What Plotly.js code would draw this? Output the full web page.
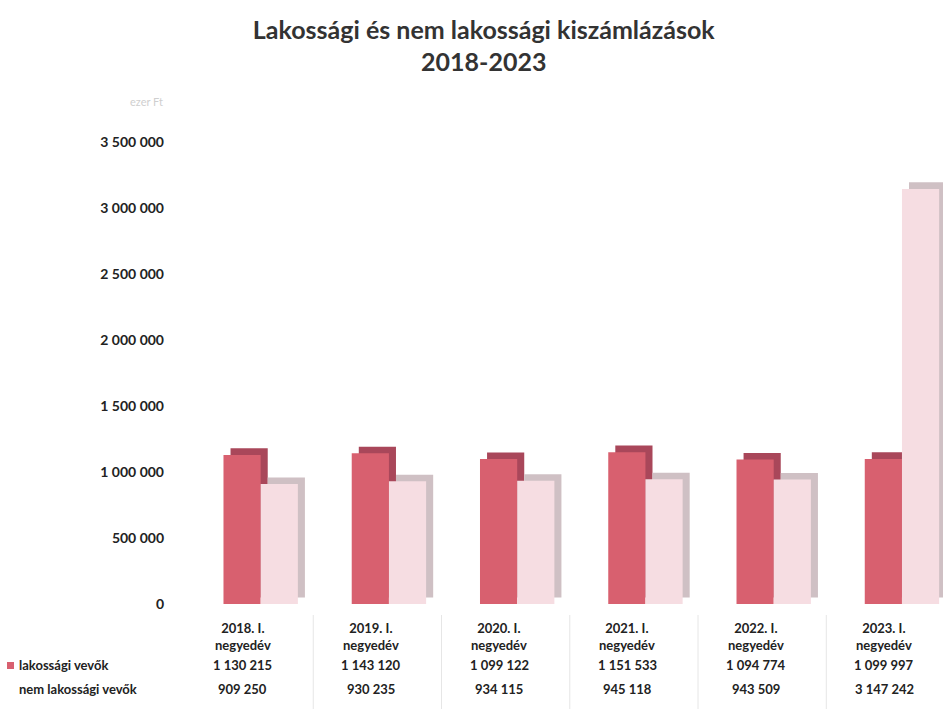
<!DOCTYPE html>
<html>
<head>
<meta charset="utf-8">
<script src="https://cdn.plot.ly/plotly-3.0.1.min.js"></script>
<style>html,body{margin:0;padding:0;background:#fff;}#chart{width:943px;height:709px;}</style>
</head>
<body>
<div id="chart"></div>
<script>
// ---- data ----
const categories = ["2018. I.<br>negyedév", "2019. I.<br>negyedév", "2020. I.<br>negyedév", "2021. I.<br>negyedév", "2022. I.<br>negyedév", "2023. I.<br>negyedév"];
const lakossagi = [1130215, 1143120, 1099122, 1151533, 1094774, 1099997];
const nemLakossagi = [909250, 930235, 934115, 945118, 943509, 3147242];
const seriesNames = ["lakossági vevők", "nem lakossági vevők"];
const yTicks = [0, 500000, 1000000, 1500000, 2000000, 2500000, 3000000, 3500000];

// ---- styling ----
const xIdx = categories.map((c, i) => i);
const W = 0.29, DX = 0.055, DEPTH = 50000;
const fmt = v => v.toString().replace(/\B(?=(\d{3})+(?!\d))/g, " ");
const plotTop = 120, plotBottom = 604, plotLeft = 185, plotRight = 943;
const py = px => (plotBottom - px) / (plotBottom - plotTop);
const pxX = px => (px - plotLeft) / (plotRight - plotLeft);
const font = "Lato, 'Open Sans', sans-serif";
const tFont = {family: font, size: 13, color: "#222", weight: 700};

const traces = [
  {type: "bar", x: xIdx, y: lakossagi, base: DEPTH, offset: -0.20 + DX, width: W,
   marker: {color: "#a9475a"}, hoverinfo: "skip", showlegend: false},
  {type: "bar", x: xIdx, y: lakossagi, name: seriesNames[0], offset: -0.20, width: W,
   marker: {color: "#d8606f"}, showlegend: false},
  {type: "bar", x: xIdx, y: nemLakossagi, base: DEPTH, offset: 0.09 + DX, width: W,
   marker: {color: "#cfc0c4"}, hoverinfo: "skip", showlegend: false},
  {type: "bar", x: xIdx, y: nemLakossagi, name: seriesNames[1], offset: 0.09, width: W,
   marker: {color: "#f6dde2"}, showlegend: false}
];

const annotations = [];
categories.forEach((c, i) => {
  annotations.push({x: i - 0.05, y: py(636), xref: "x", yref: "paper", yanchor: "middle", text: c,
    showarrow: false, font: tFont, align: "center"});
  annotations.push({x: i - 0.05, y: py(665), xref: "x", yref: "paper", yanchor: "middle",
    text: fmt(lakossagi[i]), showarrow: false, font: tFont});
  annotations.push({x: i - 0.05, y: py(689), xref: "x", yref: "paper", yanchor: "middle",
    text: fmt(nemLakossagi[i]), showarrow: false, font: tFont});
});
annotations.push({x: pxX(17), y: py(665), xref: "paper", yref: "paper", xanchor: "left", yanchor: "middle",
  text: seriesNames[0], showarrow: false, font: tFont});
annotations.push({x: pxX(17), y: py(689), xref: "paper", yref: "paper", xanchor: "left", yanchor: "middle",
  text: seriesNames[1], showarrow: false, font: tFont});
annotations.push({x: pxX(165), y: py(101), xref: "paper", yref: "paper", xanchor: "right", yanchor: "middle",
  text: "ezer Ft", showarrow: false, font: {family: font, size: 11, color: "#cfcfcf"}});

const shapes = [];
for (let k = 0; k < categories.length - 1; k++) {
  shapes.push({type: "line", xref: "x", yref: "paper", x0: k + 0.5, x1: k + 0.5, y0: py(615), y1: py(709),
    line: {color: "#e6e6e6", width: 1}});
}
shapes.push({type: "rect", xref: "paper", yref: "paper", x0: pxX(7), x1: pxX(14),
  y0: py(669), y1: py(662), fillcolor: "#d8606f", line: {width: 0}});

const layout = {
  width: 943, height: 709,
  margin: {l: plotLeft, r: 0, t: plotTop, b: 709 - plotBottom},
  paper_bgcolor: "#fff", plot_bgcolor: "#fff",
  barmode: "overlay",
  title: {text: "Lakossági és nem lakossági kiszámlázások<br>2018-2023", x: 0.513, xanchor: "center",
    yref: "container", y: 0.945, yanchor: "middle", font: {family: font, size: 25, color: "#333", weight: 700}},
  xaxis: {range: [-0.5, 5.41], showticklabels: false, showgrid: false, zeroline: false, showline: false, ticks: ""},
  yaxis: {range: [0, 3670000], tickvals: yTicks, ticktext: yTicks.map(fmt), showgrid: false, zeroline: false,
    showline: false, ticks: "", ticklabelstandoff: 20,
    tickfont: {family: font, size: 14, color: "#222", weight: 700}},
  annotations: annotations,
  shapes: shapes
};

Plotly.newPlot("chart", traces, layout, {displayModeBar: false, staticPlot: true});
</script>
</body>
</html>
